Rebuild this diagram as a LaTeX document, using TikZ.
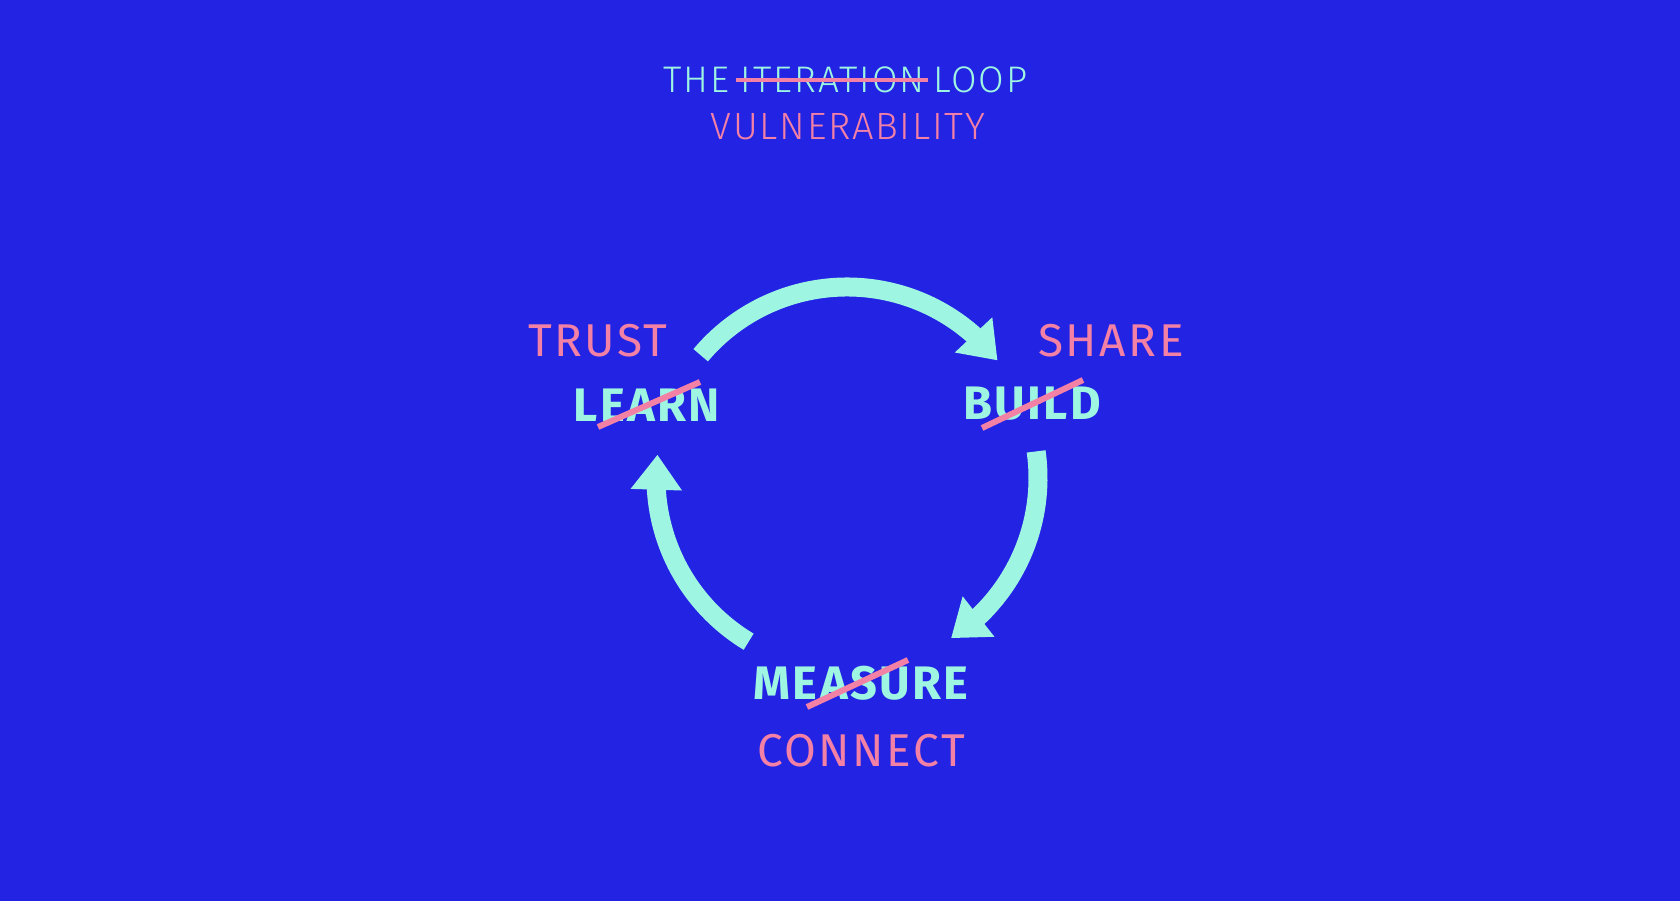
\documentclass[tikz,border=0pt]{standalone}
\usepackage{fontspec}
\setmainfont{Fira Sans}
\newfontfamily\lightfont[LetterSpace=5.5]{Fira Sans Light}
\newfontfamily\vulfont[LetterSpace=4.5]{Fira Sans Light}
\newfontfamily\regfont[LetterSpace=5.5]{Fira Sans}
\newfontfamily\boldfont[LetterSpace=5]{Fira Sans Bold}
\usetikzlibrary{arrows.meta,bending,calc}
\definecolor{bg}{RGB}{35,35,228}
\definecolor{mint}{RGB}{158,246,226}
\definecolor{pink}{RGB}{243,128,165}
\begin{document}
\begin{tikzpicture}[x=1pt,y=1pt,
  titlet/.style={inner sep=0pt,anchor=base west,text=mint,font=\lightfont\fontsize{37}{40}\selectfont},
  newword/.style={inner sep=0pt,anchor=base,text=pink,font=\regfont\fontsize{46}{50}\selectfont},
  oldword/.style={inner sep=0pt,anchor=base,text=mint,font=\boldfont\fontsize{47}{50}\selectfont},
  strike/.style={draw=pink,line width=6pt},
  loop/.style={draw=mint,line width=19pt,-{Triangle[width=49pt,length=35pt,flex]}}]
\fill[bg] (0,0) rectangle (1680,901);
\useasboundingbox (0,0) rectangle (1680,901);
\coordinate (c) at (847,423);
% title
\node[titlet] (the) at (663,808) {THE};
\node[titlet,anchor=base west] (iter) at ([xshift=11pt]the.base east) {ITERATION};
\node[titlet,anchor=base west] (loopw) at ([xshift=8pt]iter.base east) {LOOP};
\draw[draw=pink,line width=4pt] ([xshift=-5pt,yshift=13pt]iter.base west) -- ([xshift=3pt,yshift=13pt]iter.base east);
\node[inner sep=0pt,anchor=base,text=pink,font=\vulfont\fontsize{38}{40}\selectfont] (vul) at (848,761) {VULNERABILITY};
% labels
\node[newword] (trust) at (598,544) {TRUST};
\node[oldword] (learn) at (647,479) {LEARN};
\node[newword] (share) at (1111,544) {SHARE};
\node[oldword] (build) at (1032,481) {BUILD};
\node[oldword] (measure) at (861,201) {MEASURE};
\node[newword] (connect) at (861,134) {CONNECT};
% strikes
\draw[strike] ($(learn.base)+(-49,-5)$) -- ($(learn.base)+(53,40)$);
\draw[strike] ($(build.base)+(-50,-8)$) -- ($(build.base)+(51,40)$);
\draw[strike] ($(measure.base)+(-54,-7)$) -- ($(measure.base)+(47,40)$);
% loop arrows
\draw[loop] ([shift={(140:191)}]c) arc[start angle=140,end angle=38,radius=191];
\draw[loop] ([shift={(8:191)}]c) arc[start angle=8,end angle=-57,radius=191];
\draw[loop] ([shift={(-121:191)}]c) arc[start angle=-121,end angle=-187,radius=191];
\end{tikzpicture}
\end{document}
